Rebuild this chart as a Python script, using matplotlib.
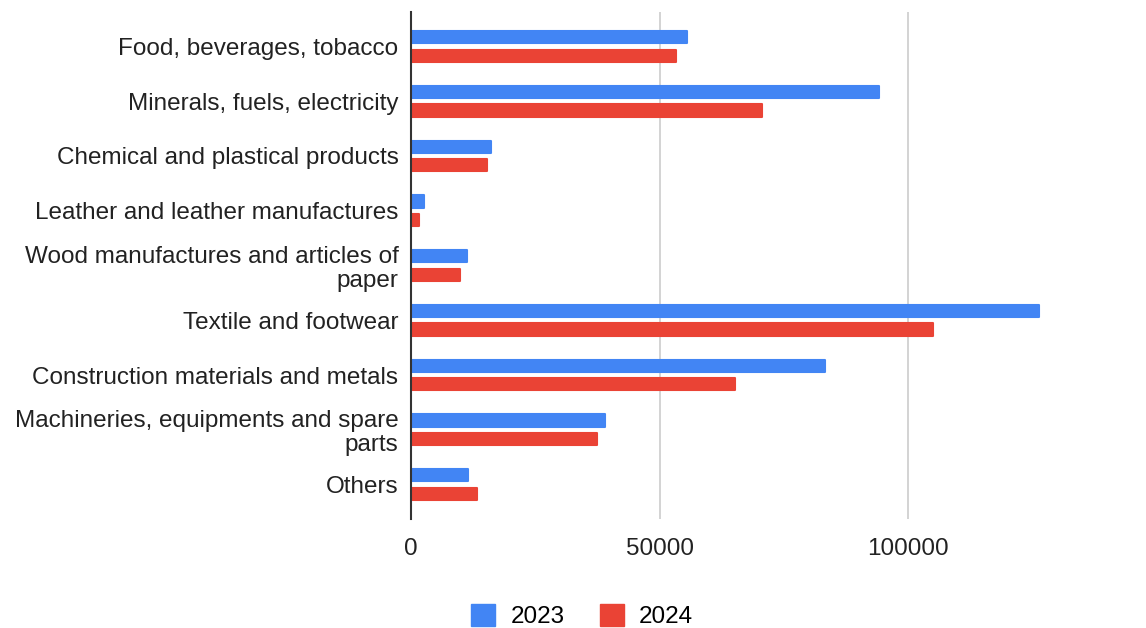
import matplotlib
matplotlib.use("Agg")
import matplotlib.pyplot as plt
import numpy as np
from matplotlib.patches import Patch

plt.rcParams['font.family'] = ['Liberation Sans', 'DejaVu Sans']

categories = [
    "Food, beverages, tobacco",
    "Minerals, fuels, electricity",
    "Chemical and plastical products",
    "Leather and leather manufactures",
    "Wood manufactures and articles of\npaper",
    "Textile and footwear",
    "Construction materials and metals",
    "Machineries, equipments and spare\nparts",
    "Others",
]
values_2023 = [55500, 94200, 16100, 2550, 11200, 126400, 83300, 39000, 11500]
values_2024 = [53400, 70700, 15300, 1700, 9900, 105000, 65200, 37400, 13200]
series_labels = ["2023", "2024"]
x_ticks = [0, 50000, 100000]

blue = "#4285F4"
red = "#EA4335"
fs = 17.5

fig = plt.figure(figsize=(11.46, 6.28), dpi=100)
ax = fig.add_axes([411 / 1146, 1 - 519 / 628, (1107 - 411) / 1146, (519 - 12) / 628])

y = np.arange(len(categories))
off = 0.169
h = 0.222
for vals, dy, col in ((values_2023, -off, blue), (values_2024, off, red)):
    ax.barh(y + dy, vals, height=h, color=col, edgecolor=col,
            linewidth=1.5, joinstyle="round", zorder=3)

ax.set_ylim(len(categories) - 1 + 0.63, -0.63)
ax.set_xlim(0, 140000)
ax.set_yticks(y)
ax.set_yticklabels(categories, fontsize=fs, color="#222222",
                   horizontalalignment="right", linespacing=1.1)
ax.set_xticks(x_ticks)
ax.set_xticklabels([str(v) for v in x_ticks], fontsize=fs, color="#222222")
ax.tick_params(axis="y", length=0, pad=9)
ax.tick_params(axis="x", length=0, pad=14)

ax.grid(axis="x", color="#cccccc", linewidth=1.2, zorder=0)
for s in ("top", "right", "bottom"):
    ax.spines[s].set_visible(False)
ax.spines["left"].set_color("#333333")
ax.spines["left"].set_linewidth(1.5)
ax.spines["left"].set_zorder(4)

handles = [Patch(facecolor=blue, edgecolor=blue), Patch(facecolor=red, edgecolor=red)]
fig.legend(handles, series_labels, loc="center", bbox_to_anchor=(582 / 1146, 1 - 616 / 628),
           ncol=2, frameon=False, fontsize=fs, handlelength=1.0, handleheight=1.0,
           columnspacing=1.45, handletextpad=0.62)

fig.savefig("out.png", dpi=100)
